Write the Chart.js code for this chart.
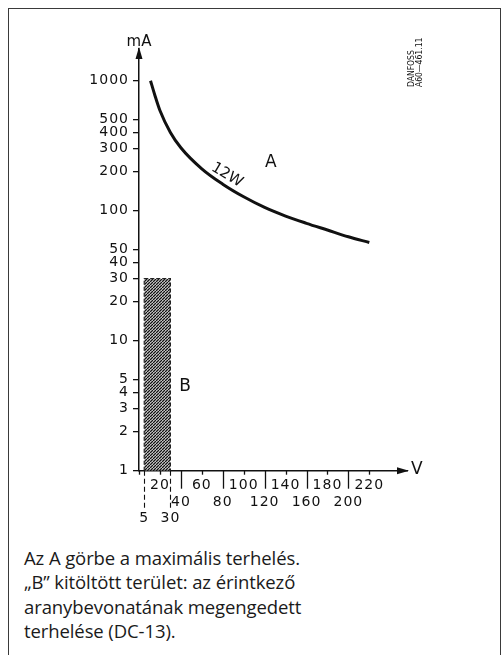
<!DOCTYPE html>
<html>
<head>
<meta charset="utf-8">
<script src="https://cdn.jsdelivr.net/npm/chart.js@4.4.1/dist/chart.umd.min.js"></script>
<style>
  html, body { margin: 0; padding: 0; background: #fff; }
  body { width: 503px; height: 655px; position: relative; overflow: hidden; }
  #frame { position: absolute; left: 8px; top: 8px; width: 491px; height: 700px;
           border: 1.5px solid #3a3a3a; border-bottom: none; }
  #wrap { position: absolute; left: 0; top: 0; width: 503px; height: 540px; }
  #caption { position: absolute; left: 24px; top: 546px; font-family: 'Open Sans', sans-serif;
             font-size: 18.5px; line-height: 24.4px; color: #1a1a1a; white-space: nowrap;
             letter-spacing: -0.1px; }
</style>
</head>
<body>
<div id="frame"></div>
<div id="wrap"><canvas id="c"></canvas></div>
<div id="caption">Az A görbe a maximális terhelés.<br>„B” kitöltött terület: az érintkező<br>aranybevonatának megengedett<br>terhelése (DC-13).</div>
<script>
// Curve A: maximum load (12 W)
const curveVolts     = [11, 15, 20, 30, 40, 60, 80, 100, 120, 140, 160, 180, 200, 220];
const curveMilliamps = [1000, 780, 590, 400, 305, 210, 160, 128, 106, 91, 80, 71, 63, 57];

// Zone B: permitted load of the gold-plated contacts
const zoneVolts     = [5, 5, 30, 30];
const zoneMilliamps = [1, 30, 30, 1];

// Axis ticks
const yTickValues  = [1, 2, 3, 4, 5, 10, 20, 30, 40, 50, 100, 200, 300, 400, 500, 1000];
const xTicksUpper  = [20, 60, 100, 140, 180, 220];
const xTicksMiddle = [40, 80, 120, 160, 200];
const xTicksLower  = [5, 30];

const curveLabel = '12W';
const curveName = 'A';
const zoneName = 'B';
const yUnit = 'mA';
const xUnit = 'V';
const drawingRef = ['DANFOSS', 'A60\u2014461.11'];

const ink = '#111';
const tickFont = { family: 'DejaVu Sans', size: 14, lineHeight: 1.2 };

// diagonal hatch for zone B
function hatchPattern() {
  const t = document.createElement('canvas');
  t.width = 3; t.height = 3;
  const g = t.getContext('2d');
  g.fillStyle = '#fff';
  g.fillRect(0, 0, 3, 3);
  g.strokeStyle = '#111';
  g.lineWidth = 1.45;
  [-3, 0, 3].forEach(ox => {
    g.beginPath();
    g.moveTo(ox, 3);
    g.lineTo(ox + 3, 0);
    g.stroke();
  });
  return g.createPattern(t, 'repeat');
}

const overlay = {
  id: 'overlay',
  beforeDraw(chart) {
    chart.ctx.letterSpacing = '1px';
  },
  afterDraw(chart) {
    const { ctx, chartArea: ca, scales: { x, y } } = chart;
    ctx.save();
    ctx.letterSpacing = '0px';
    ctx.fillStyle = ink;
    ctx.strokeStyle = ink;

    // arrowheads
    ctx.beginPath();
    ctx.moveTo(ca.left, ca.top - 2);
    ctx.lineTo(ca.left - 3.5, ca.top + 10);
    ctx.lineTo(ca.left + 3.5, ca.top + 10);
    ctx.closePath();
    ctx.fill();
    ctx.beginPath();
    ctx.moveTo(ca.right + 2, ca.bottom);
    ctx.lineTo(ca.right - 10, ca.bottom - 3.5);
    ctx.lineTo(ca.right - 10, ca.bottom + 3.5);
    ctx.closePath();
    ctx.fill();

    // x tick marks: short and long
    ctx.lineWidth = 1.3;
    const tick = (v, len) => {
      const px = Math.round(x.getPixelForValue(v)) + 0.5;
      ctx.beginPath();
      ctx.moveTo(px, ca.bottom);
      ctx.lineTo(px, ca.bottom + len);
      ctx.stroke();
    };
    [0, ...xTicksUpper].forEach(v => tick(v, 4));
    xTicksMiddle.forEach(v => tick(v, 18));

    // dashed guides below zone B
    ctx.setLineDash([5, 3]);
    ctx.lineWidth = 1.1;
    xTicksLower.forEach(v => tick(v, 40));
    ctx.setLineDash([]);

    // text labels
    const put = (txt, v, m, size, rot) => {
      const px = x.getPixelForValue(v), py = y.getPixelForValue(m);
      ctx.save();
      ctx.translate(px, py);
      if (rot) ctx.rotate(rot);
      ctx.font = size + 'px "DejaVu Sans"';
      ctx.textAlign = 'center';
      ctx.textBaseline = 'middle';
      ctx.fillText(txt, 0, 0);
      ctx.restore();
    };
    put(curveName, 126, 233, 17);
    put(zoneName, 44, 4.4, 17);
    put(curveLabel, 84, 188, 15, 31 * Math.PI / 180);

    ctx.font = '15px "DejaVu Sans"';
    ctx.textAlign = 'center';
    ctx.textBaseline = 'middle';
    ctx.fillText(yUnit, ca.left, ca.top - 7);
    ctx.font = '17px "DejaVu Sans"';
    ctx.textAlign = 'left';
    ctx.fillText(xUnit, ca.right + 4, ca.bottom - 1);

    // drawing reference, vertical
    ctx.font = '8.5px "DejaVu Sans Condensed", "DejaVu Sans"';
    ctx.textAlign = 'left';
    ctx.textBaseline = 'middle';
    drawingRef.forEach((t, i) => {
      ctx.save();
      ctx.translate(ca.right + 5 + i * 8, ca.top + 38);
      ctx.rotate(-Math.PI / 2);
      ctx.fillText(t, 0, 0);
      ctx.restore();
    });
    ctx.restore();
  }
};

const xLabel = v => {
  if (xTicksLower.includes(v)) return ['', '', String(v)];
  if (xTicksMiddle.includes(v)) return ['', String(v)];
  return String(v);
};

new Chart(document.getElementById('c'), {
  type: 'line',
  data: {
    datasets: [
      {
        data: curveVolts.map((v, i) => ({ x: v, y: curveMilliamps[i] })),
        borderColor: ink,
        borderWidth: 3,
        pointRadius: 0,
        cubicInterpolationMode: 'monotone',
        fill: false,
        order: 1
      },
      {
        data: zoneVolts.map((v, i) => ({ x: v, y: zoneMilliamps[i] })),
        borderColor: '#222',
        borderWidth: 1.2,
        borderDash: [4, 2],
        pointRadius: 0,
        tension: 0,
        fill: 'start',
        backgroundColor: hatchPattern(),
        order: 2
      }
    ]
  },
  options: {
    responsive: true,
    maintainAspectRatio: false,
    animation: false,
    events: [],
    layout: { padding: { top: 49, right: 96, left: 0, bottom: 0 } },
    plugins: { legend: { display: false }, tooltip: { enabled: false } },
    scales: {
      x: {
        type: 'linear',
        min: 0,
        max: 256,
        afterBuildTicks: s => {
          s.ticks = [...xTicksLower, ...xTicksUpper, ...xTicksMiddle]
            .sort((a, b) => a - b).map(v => ({ value: v }));
        },
        afterFit: s => { s.height = 69.3; },
        grid: { display: false, drawTicks: false },
        border: { display: true, color: ink, width: 1.5 },
        ticks: {
          autoSkip: false, maxRotation: 0, minRotation: 0, padding: 6,
          color: ink, font: tickFont,
          callback: v => xLabel(v)
        }
      },
      y: {
        type: 'logarithmic',
        min: 1,
        max: 1754,
        afterBuildTicks: s => { s.ticks = yTickValues.map(v => ({ value: v })); },
        afterFit: s => { s.width = 139; },
        grid: { display: true, drawOnChartArea: false, drawTicks: true, tickLength: 6, color: ink, lineWidth: 1.3 },
        border: { display: true, color: ink, width: 1.5 },
        ticks: { padding: 4, color: ink, font: tickFont, callback: v => String(v) }
      }
    }
  },
  plugins: [overlay]
});
</script>
</body>
</html>
